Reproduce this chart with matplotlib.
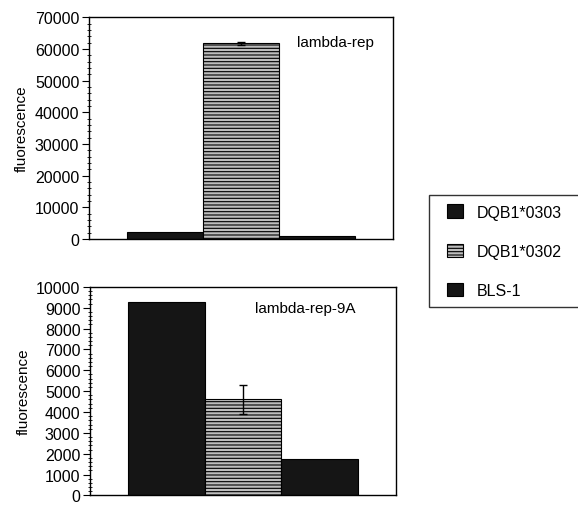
"""Fluorescence of lambda-rep constructs across three cell lines."""

import matplotlib.pyplot as plt
from matplotlib.legend_handler import HandlerPatch
from matplotlib.patches import Patch, Rectangle
from matplotlib.ticker import MultipleLocator

plt.rcParams["font.family"] = ["Liberation Sans", "DejaVu Sans"]
plt.rcParams["hatch.linewidth"] = 0.8

cell_lines = ["DQB1*0303", "DQB1*0302", "BLS-1"]
rep_values = [2100, 61800, 900]
rep_errors = [0, 500, 0]
rep9a_values = [9300, 4600, 1750]
rep9a_errors = [0, 700, 0]

positions = [1, 2, 3]
faces = ["#151515", "#bdbdbd", "#151515"]
hatches = [None, "-----", None]


def draw_panel(ax, values, errors, title, ymax, major, minor, title_xy):
    ax.bar(positions, values, width=1.0, color=faces, edgecolor="black",
           linewidth=0.8, hatch=hatches)
    ax.errorbar(positions[1], values[1], yerr=errors[1], fmt="none",
                ecolor="black", elinewidth=1, capsize=3)
    ax.set_xlim(0, 4)
    ax.set_ylim(0, ymax)
    ax.set_xticks([])
    ax.yaxis.set_major_locator(MultipleLocator(major))
    ax.yaxis.set_minor_locator(MultipleLocator(minor))
    ax.tick_params(axis="y", which="major", direction="out", length=5,
                   labelsize=11.5, pad=2)
    ax.tick_params(axis="y", which="minor", direction="inout", length=3)
    ax.set_ylabel("fluorescence", fontsize=11, labelpad=4)
    ax.text(*title_xy, title, transform=ax.transAxes, fontsize=11,
            va="center")
    for side in ax.spines.values():
        side.set_linewidth(1.0)


def inset_square(legend, orig_handle, xdescent, ydescent, width, height,
                 fontsize):
    # push the swatch to the right part of the handle box
    return Rectangle((-xdescent + width / 3, -ydescent), width * 2 / 3,
                     height)


def main() -> None:
    fig = plt.figure(figsize=(5.78, 5.06), dpi=100)

    ax_top = fig.add_axes([0.154, 0.526, 0.526, 0.438])
    draw_panel(ax_top, rep_values, rep_errors, "lambda-rep",
               70000, 10000, 2000, (0.684, 0.89))

    ax_bot = fig.add_axes([0.156, 0.019, 0.529, 0.412])
    draw_panel(ax_bot, rep9a_values, rep9a_errors, "lambda-rep-9A",
               10000, 1000, 200, (0.54, 0.90))

    handles = [Patch(facecolor=f, edgecolor="black", hatch=h, linewidth=0.8)
               for f, h in zip(faces, hatches)]
    fig.legend(handles, cell_lines, loc="upper left",
               bbox_to_anchor=(0.742, 0.393, 0.30, 0.22), mode="expand",
               fontsize=11.5, frameon=True, fancybox=False,
               edgecolor="black", handlelength=1.55, handleheight=0.9,
               labelspacing=1.5, borderpad=0.6, borderaxespad=0,
               handletextpad=0.85,
               handler_map={Patch: HandlerPatch(patch_func=inset_square)})

    fig.savefig("out.png", dpi=100)


if __name__ == "__main__":
    main()
